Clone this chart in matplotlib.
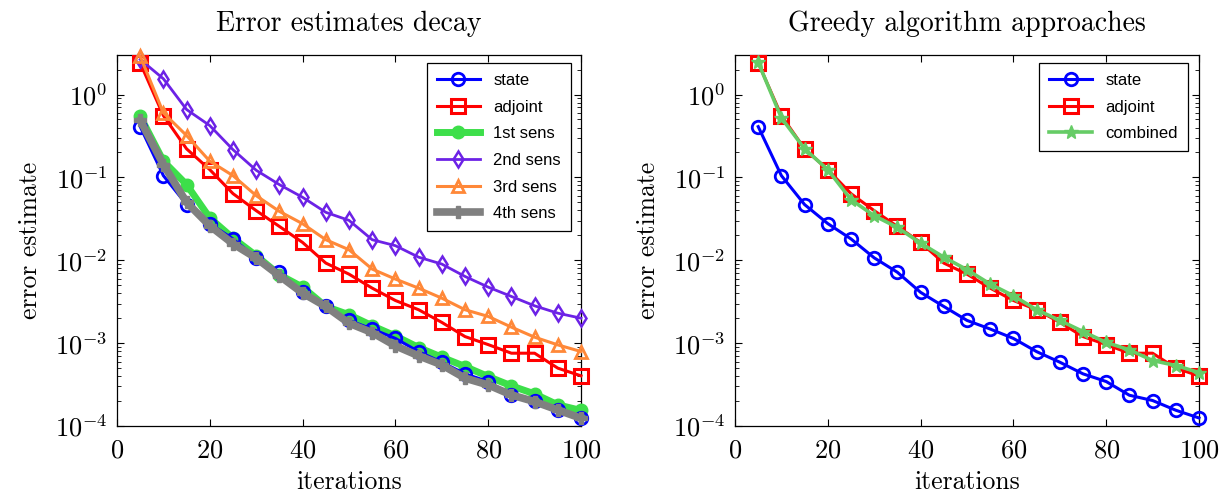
import matplotlib
matplotlib.use("Agg")
import matplotlib.pyplot as plt
from matplotlib.ticker import LogLocator, NullFormatter, MultipleLocator

plt.rcParams['font.family'] = 'cmr10'
plt.rcParams['mathtext.fontset'] = 'cm'
plt.rcParams['axes.formatter.use_mathtext'] = True
plt.rcParams['axes.unicode_minus'] = False

iterations = list(range(5, 101, 5))

state = [0.41, 0.105, 0.047, 0.0277, 0.0181, 0.0107, 0.00716, 0.0041, 0.00277, 0.00188,
         0.00148, 0.00114, 0.00079, 0.000589, 0.000426, 0.000344, 0.000235, 0.000203,
         0.000155, 0.000125]
adjoint = [2.41, 0.557, 0.221, 0.124, 0.0637, 0.0397, 0.0256, 0.0164, 0.00925, 0.0068,
           0.00461, 0.00327, 0.00253, 0.00178, 0.0012, 0.00096, 0.000756, 0.000756,
           0.000499, 0.000403]
sens1 = [0.547, 0.157, 0.0818, 0.0324, 0.0185, 0.01135, 0.00668, 0.00474, 0.00277, 0.0022,
         0.00162, 0.00122, 0.000885, 0.000676, 0.000522, 0.000395, 0.000305, 0.000244,
         0.00018, 0.000154]
sens2 = [2.65, 1.55, 0.659, 0.422, 0.216, 0.122, 0.0818, 0.0575, 0.0379, 0.0303,
         0.0177, 0.015, 0.0109, 0.009, 0.00638, 0.00474, 0.00366, 0.00282, 0.0023, 0.002]
sens3 = [2.9, 0.6, 0.32, 0.157, 0.105, 0.0602, 0.0389, 0.0276, 0.0177, 0.0134,
         0.00783, 0.00593, 0.00461, 0.00349, 0.00253, 0.0021, 0.00156, 0.00118,
         0.000953, 0.000792]
sens4 = [0.49, 0.143, 0.05, 0.0261, 0.0158, 0.01063, 0.0065, 0.00402, 0.00277, 0.00174,
         0.00134, 0.000928, 0.000703, 0.000547, 0.000378, 0.000313, 0.000237, 0.000197,
         0.000156, 0.000124]
combined = [2.45, 0.523, 0.221, 0.124, 0.0539, 0.0345, 0.0249, 0.0161, 0.0109, 0.00769,
            0.00516, 0.00373, 0.00253, 0.00188, 0.00138, 0.00102, 0.00083, 0.000617,
            0.000537, 0.000442]

titles = ["Error estimates decay", "Greedy algorithm approaches"]
xlabel = "iterations"
ylabel = "error estimate"

fig = plt.figure(figsize=(12.25, 5.03), dpi=100)
W, H = 1225, 503
ax1 = fig.add_axes([117 / W, 1 - 426 / H, (581 - 117) / W, (426 - 55) / H])
ax2 = fig.add_axes([735 / W, 1 - 426 / H, (1199 - 735) / W, (426 - 55) / H])

circ = dict(marker='o', mfc='none', markersize=9, markeredgewidth=2.0)
sq = dict(marker='s', mfc='none', markersize=9.5, markeredgewidth=2.2)

# left panel: all estimators
ax1.plot(iterations, state, color='#0000ff', lw=2.2, **circ, label='state', zorder=5)
ax1.plot(iterations, adjoint, color='#ff0000', lw=2.2, **sq, label='adjoint', zorder=4)
ax1.plot(iterations, sens1, color='#3ddf4a', lw=5.0, marker='o', markersize=9, label='1st sens', zorder=3)
ax1.plot(iterations, sens2, color='#6c22e6', lw=2.0, marker='d', mfc='none', markersize=8.5,
         markeredgewidth=1.8, label='2nd sens', zorder=4)
ax1.plot(iterations, sens3, color='#ff8838', lw=2.2, marker='^', markersize=9, mfc='none',
         markeredgewidth=2.0, label='3rd sens', zorder=4)
ax1.plot(iterations, sens4, color='#808080', lw=5.5, marker='P', markersize=9, label='4th sens', zorder=6)

# right panel: greedy variants
ax2.plot(iterations, state, color='#0000ff', lw=2.2, **circ, label='state', zorder=5)
ax2.plot(iterations, adjoint, color='#ff0000', lw=2.2, **sq, label='adjoint', zorder=4)
ax2.plot(iterations, combined, color='#66cc66', lw=2.6, marker='*', markersize=10, label='combined', zorder=5)

legend_boxes = [(571, 63), (1188, 63)]
for ax, title, (lx, ly), (x0, x1) in zip((ax1, ax2), titles, legend_boxes, [(117, 581), (735, 1199)]):
    ax.set_yscale('log')
    ax.set_xlim(0, 100)
    ax.set_ylim(1e-4, 3.0)
    ax.xaxis.set_major_locator(MultipleLocator(20))
    ax.yaxis.set_major_locator(LogLocator(base=10, numticks=10))
    ax.yaxis.set_minor_locator(LogLocator(base=10, subs=range(2, 10), numticks=50))
    ax.yaxis.set_minor_formatter(NullFormatter())
    ax.tick_params(which='both', direction='in', top=True, right=True)
    ax.tick_params(which='major', length=5, width=0.8, labelsize=19)
    ax.tick_params(axis='x', which='major', pad=9)
    ax.tick_params(axis='y', which='major', pad=7)
    ax.tick_params(which='minor', length=3, width=0.6)
    for s in ax.spines.values():
        s.set_linewidth(0.9)
    ax.set_title(title, fontsize=20, pad=17)
    ax.set_xlabel(xlabel, fontsize=18.5, labelpad=6)
    ax.set_ylabel(ylabel, fontsize=18.5, labelpad=9)
    for line in ax.get_lines():
        line.set_clip_on(False)
    anchor = ((lx - x0) / (x1 - x0), 1 - (ly - 55) / (426 - 55))
    leg = ax.legend(loc='upper right', prop={'family': 'Liberation Sans', 'size': 12},
                    fancybox=False, edgecolor='black', framealpha=1, handlelength=2.6,
                    borderpad=0.6, labelspacing=0.7, borderaxespad=0,
                    bbox_to_anchor=anchor)
    leg.get_frame().set_linewidth(0.9)
    leg.set_zorder(10)

fig.savefig('out.png', dpi=100)
